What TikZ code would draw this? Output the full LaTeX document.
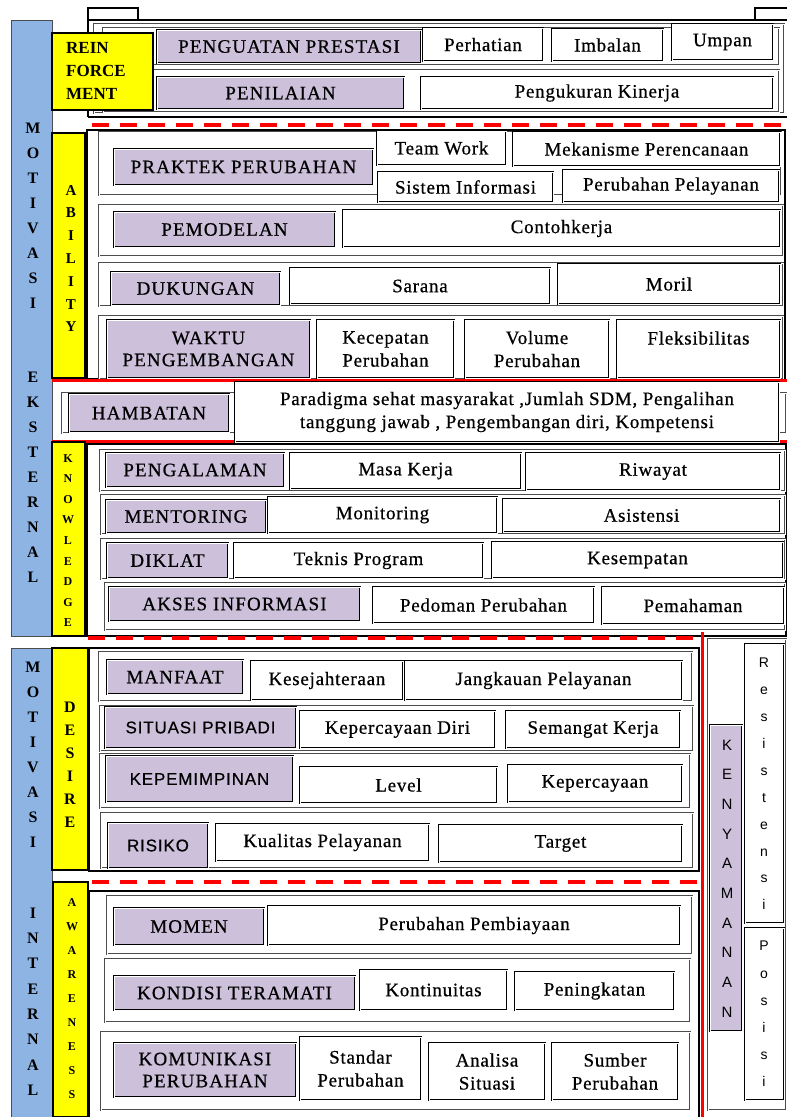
\documentclass[tikz,border=0pt]{standalone}
\usepackage{fontspec}
\setmainfont{Liberation Serif}
\newfontfamily\serl[LetterSpace=4,FakeBold=0.6]{Liberation Serif}
\newfontfamily\serc[LetterSpace=6,FakeBold=0.6]{Liberation Serif}
\newfontfamily\sansf[LetterSpace=5,FakeBold=0.4]{Liberation Sans}
\newfontfamily\sansv{Liberation Sans}
\definecolor{purp}{HTML}{CCC0DA}
\definecolor{bluebar}{HTML}{8EB4E3}
\definecolor{yel}{HTML}{FFFF00}
\definecolor{redd}{HTML}{FF0000}
\newcommand\txtf{\serl\fontsize{19}{23}\selectfont}
\newcommand\capf{\serc\fontsize{19}{22}\selectfont}
\newcommand\sanf{\sansf\fontsize{17}{21}\selectfont}
\newcommand\up[2]{\raisebox{#1}[\height][\depth]{#2}}
\newcommand\bx[7]{\node[#6,anchor=north west,inner sep=0pt,outer sep=0pt,minimum width={#4pt-#2pt},minimum height={#5pt-#3pt}] (#1) at (#2,#3) {#7};}
\tikzset{
  dbl/.style={draw=black,line width=2.6pt,postaction={draw=white,line width=1.0pt}},
  pbox/.style={dbl,fill=purp,font=\capf,align=center},
  sbox/.style={dbl,fill=purp,font=\sanf,align=center},
  wbox/.style={dbl,fill=white,font=\txtf,align=center},
  rowf/.style={draw=black!70,line width=2.4pt,fill=white,postaction={draw=white,line width=1.0pt}},
  secf/.style={draw=black,line width=2.2pt},
  ybox/.style={draw=black,line width=1.2pt,fill=yel},
  bbox/.style={draw=black!70,line width=0.8pt,fill=bluebar},
  reddash/.style={draw=redd,line width=4pt,dash pattern=on 17pt off 11pt},
  redline/.style={draw=redd,line width=3pt},
  vtext/.style={align=center,inner sep=0pt,font={\bfseries\fontsize{16}{25}\selectfont}},
}
\begin{document}
\begin{tikzpicture}[x=1pt,y=-1pt]
\useasboundingbox (0,0) rectangle (787,1117);
% blue bars
\bx{blue1}{11}{20}{52}{636}{bbox}{}
\bx{blue2}{11}{648}{52}{1117}{bbox}{}
% ===== REINFORCEMENT =====
\draw[secf] (88,117) -- (88,8) -- (138,8) -- (138,20);
\draw[secf] (88,20) -- (787,20);
\draw[secf] (755,20) -- (755,8) -- (787,8);
\draw[secf] (88,117) -- (787,117);
\bx{rfin}{94}{24}{784}{113}{rowf}{}
\bx{rf1}{103}{28}{779}{65}{rowf}{}
\bx{rf2}{103}{70}{779}{112}{rowf}{}
\bx{pp}{157}{30}{421}{63}{pbox}{PENGUATAN PRESTASI}
\bx{perhatian}{423}{28}{543}{61}{wbox}{Perhatian}
\bx{imbalan}{552}{29}{663}{61}{wbox}{Imbalan}
\bx{umpan}{672}{24}{773}{60}{wbox}{Umpan}
\bx{penilaian}{157}{77}{404}{109}{pbox}{PENILAIAN}
\bx{pengukuran}{421}{77}{773}{109}{wbox}{Pengukuran Kinerja}
\bx{reinf}{52}{33}{153}{110}{ybox}{}
\node[anchor=west,align=left,inner sep=0pt,font={\bfseries\fontsize{17}{23}\selectfont}] (reinft) at (66,71) {REIN\\FORCE\\MENT};
\draw[reddash] (92,125) -- (787,125);
% ===== ABILITY =====
\draw[secf] (87,130) rectangle (785,379);
\bx{ar1}{99}{132}{781}{195}{rowf}{}
\bx{ar2}{99}{205}{783}{256}{rowf}{}
\bx{ar3}{99}{263}{783}{306}{rowf}{}
\bx{ar4}{99}{316}{783}{379}{rowf}{}
\bx{praktek}{114}{149}{373}{185}{pbox}{PRAKTEK PERUBAHAN}
\bx{teamwork}{377}{131}{506}{165}{wbox}{Team Work}
\bx{mekanisme}{513}{132}{780}{166}{wbox}{Mekanisme Perencanaan}
\bx{sistem}{378}{172}{553}{202}{wbox}{Sistem Informasi}
\bx{perubpel}{563}{170}{779}{202}{wbox}{Perubahan Pelayanan}
\bx{pemodelan}{114}{212}{335}{247}{pbox}{PEMODELAN}
\bx{contoh}{343}{210}{780}{247}{wbox}{Contohkerja}
\bx{dukungan}{111}{272}{280}{305}{pbox}{DUKUNGAN}
\bx{sarana}{290}{268}{550}{304}{wbox}{Sarana}
\bx{moril}{558}{264}{780}{304}{wbox}{Moril}
\bx{waktu}{107}{320}{310}{378}{pbox}{WAKTU\\PENGEMBANGAN}
\bx{kecepatan}{317}{320}{454}{378}{wbox}{Kecepatan\\Perubahan}
\bx{volume}{465}{320}{609}{378}{wbox}{Volume\\Perubahan}
\bx{fleks}{617}{320}{780}{378}{wbox}{\up{11pt}{Fleksibilitas}}
\bx{ability}{52}{133}{85}{378}{ybox}{}
\node[vtext,font={\bfseries\fontsize{15}{22.8}\selectfont}] (abilityt) at (71,258.5) {A\\B\\I\\L\\I\\T\\Y};
% ===== HAMBATAN =====
\draw[redline] (52,380) -- (787,380);
\draw[redline] (52,441) -- (787,441);
\bx{hr}{62}{393}{786}{433}{rowf}{}
\bx{hambatan}{69}{394}{229}{432}{pbox}{HAMBATAN}
\bx{paradigma}{235}{382}{779}{442}{wbox}{Paradigma sehat masyarakat ,Jumlah SDM, Pengalihan\\tanggung jawab , Pengembangan diri, Kompetensi}
% ===== KNOWLEDGE =====
\draw[secf] (87,444) rectangle (786,636);
\bx{kr1}{100}{450}{785}{491}{rowf}{}
\bx{kr2}{101}{495}{785}{534}{rowf}{}
\bx{kr3}{101}{539}{785}{579}{rowf}{}
\bx{kr4}{105}{583}{785}{630}{rowf}{}
\bx{pengalaman}{106}{453}{284}{487}{pbox}{PENGALAMAN}
\bx{masakerja}{290}{453}{521}{489}{wbox}{Masa Kerja}
\bx{riwayat}{526}{453}{780}{490}{wbox}{Riwayat}
\bx{mentoring}{106}{500}{266}{533}{pbox}{MENTORING}
\bx{monitoring}{268}{497}{497}{533}{wbox}{Monitoring}
\bx{asistensi}{503}{499}{780}{532}{wbox}{Asistensi}
\bx{diklat}{107}{543}{228}{578}{pbox}{DIKLAT}
\bx{teknis}{234}{543}{483}{578}{wbox}{Teknis Program}
\bx{kesempatan}{492}{542}{783}{578}{wbox}{Kesempatan}
\bx{akses}{109}{587}{360}{621}{pbox}{AKSES INFORMASI}
\bx{pedoman}{373}{587}{594}{623}{wbox}{Pedoman Perubahan}
\bx{pemahaman}{602}{587}{784}{624}{wbox}{Pemahaman}
\bx{knowledge}{52}{442}{85}{636}{ybox}{}
\node[vtext,font={\bfseries\fontsize{12}{20.6}\selectfont}] (knowledget) at (68,540.5) {K\\N\\O\\W\\L\\E\\D\\G\\E};
\draw[reddash] (88,638) -- (702,638);
% ===== DESIRE =====
\draw[secf] (89,648) rectangle (699,871);
\bx{dr1}{99}{652}{692}{701}{rowf}{}
\bx{dr2}{100}{706}{693}{751}{rowf}{}
\bx{dr3}{100}{754}{690}{808}{rowf}{}
\bx{dr4}{101}{813}{693}{868}{rowf}{}
\bx{manfaat}{107}{660}{243}{694}{pbox}{MANFAAT}
\bx{kesejahteraan}{251}{661}{403}{700}{wbox}{Kesejahteraan}
\bx{jangkauan}{405}{661}{682}{700}{wbox}{Jangkauan Pelayanan}
\bx{situasi}{105}{707}{296}{748}{sbox}{SITUASI PRIBADI}
\bx{kepdiri}{300}{711}{495}{748}{wbox}{Kepercayaan Diri}
\bx{semangat}{506}{711}{680}{748}{wbox}{Semangat Kerja}
\bx{kepemimpinan}{106}{756}{293}{802}{sbox}{KEPEMIMPINAN}
\bx{level}{300}{767}{497}{803}{wbox}{Level}
\bx{kepercayaan}{508}{765}{682}{802}{wbox}{Kepercayaan}
\bx{risiko}{108}{823}{208}{868}{sbox}{RISIKO}
\bx{kualitas}{216}{824}{429}{861}{wbox}{Kualitas Pelayanan}
\bx{target}{439}{825}{682}{862}{wbox}{Target}
\bx{desire}{52}{648}{88}{870}{ybox}{}
\node[vtext,font={\bfseries\fontsize{16}{23}\selectfont}] (desiret) at (70,764.5) {D\\E\\S\\I\\R\\E};
\draw[reddash] (92,882) -- (702,882);
% ===== AWARENESS =====
\draw[secf] (89,1125) -- (89,891) -- (699,891) -- (699,1125);
\bx{wr1}{107}{896}{692}{954}{rowf}{}
\bx{wr2}{105}{959}{690}{1022}{rowf}{}
\bx{wr3}{101}{1032}{690}{1110}{rowf}{}
\bx{momen}{114}{908}{264}{945}{pbox}{MOMEN}
\bx{pembiayaan}{268}{906}{680}{945}{wbox}{Perubahan Pembiayaan}
\bx{kondisi}{114}{976}{355}{1010}{pbox}{KONDISI TERAMATI}
\bx{kontinuitas}{360}{970}{507}{1010}{wbox}{Kontinuitas}
\bx{peningkatan}{515}{972}{674}{1010}{wbox}{Peningkatan}
\bx{komunikasi}{114}{1043}{296}{1097}{pbox}{KOMUNIKASI\\PERUBAHAN}
\bx{standar}{300}{1037}{421}{1100}{wbox}{Standar\\Perubahan}
\bx{analisa}{429}{1043}{545}{1100}{wbox}{Analisa\\Situasi}
\bx{sumber}{552}{1043}{678}{1100}{wbox}{Sumber\\Perubahan}
\bx{awareness}{53}{882}{88}{1117}{ybox}{}
\node[vtext,font={\bfseries\fontsize{12}{24.1}\selectfont}] (awarenesst) at (72,998.5) {A\\W\\A\\R\\E\\N\\E\\S\\S};
% ===== KENYAMANAN =====
\draw[redline] (702,632) -- (702,1117);
\bx{kenframe}{708}{639}{786}{1110}{rowf}{}
\bx{kenyamanan}{710}{725}{742}{1031}{dbl,fill=purp}{}
\node[vtext,font={\sansv\fontsize{15}{29.7}\selectfont}] (kenyamanant) at (727,878.5) {K\\E\\N\\Y\\A\\M\\A\\N\\A\\N};
\bx{resistensi}{745}{644}{784}{923}{dbl,fill=white}{}
\node[vtext,font={\sansv\fontsize{14}{26.9}\selectfont}] (resistensit) at (764,784) {R\\e\\s\\i\\s\\t\\e\\n\\s\\i};
\bx{posisi}{745}{928}{784}{1100}{dbl,fill=white}{}
\node[vtext,font={\sansv\fontsize{14}{27.2}\selectfont}] (posisit) at (764,1014) {P\\o\\s\\i\\s\\i};
% ===== left bar texts =====
\node[vtext] (motiv1) at (33,215.5) {M\\O\\T\\I\\V\\A\\S\\I};
\node[vtext] (ekst) at (33,477) {E\\K\\S\\T\\E\\R\\N\\A\\L};
\node[vtext] (motiv2) at (33,754.5) {M\\O\\T\\I\\V\\A\\S\\I};
\node[vtext,font={\bfseries\fontsize{16}{25.3}\selectfont}] (intern) at (33,1001.5) {I\\N\\T\\E\\R\\N\\A\\L};
\end{tikzpicture}
\end{document}
